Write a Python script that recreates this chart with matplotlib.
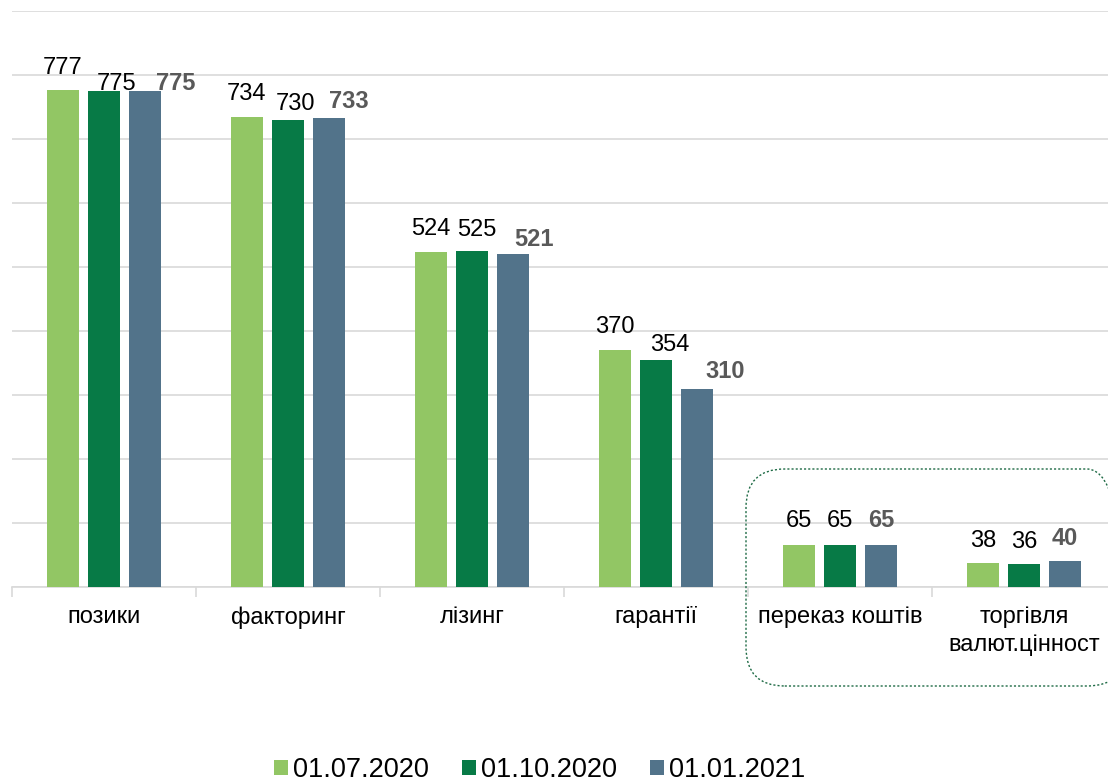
import numpy as np
import matplotlib.pyplot as plt
from matplotlib.patches import FancyBboxPatch

categories = ['позики', 'факторинг', 'лізинг', 'гарантії', 'переказ коштів', 'торгівля\nвалют.цінност']
series_names = ['01.07.2020', '01.10.2020', '01.01.2021']
v_2020_07 = [777, 734, 524, 370, 65, 38]
v_2020_10 = [775, 730, 525, 354, 65, 36]
v_2021_01 = [775, 733, 521, 310, 65, 40]

colors = ['#92C664', '#077A46', '#52738A']
label_colors = ['black', 'black', '#595959']
label_weights = ['normal', 'normal', 'bold']
# label shifts (pixels) as placed in the original, per series / category
label_dx = [[0, 0, 0, 0, 0, 0],
            [13, 8, 5, 14, 0, 0],
            [31, 20, 21, 28, 0, 0]]
label_dy = [[16, 17, 17, 17, 18, 16],
            [1, 10, 15, 9, 18, 16],
            [1, 10, 8, 11, 18, 16]]

plt.rcParams['font.family'] = ['Liberation Sans', 'DejaVu Sans']

fig = plt.figure(figsize=(11.08, 7.82), dpi=100)
W, H = 1108, 782
ax = fig.add_axes([12 / W, (H - 587) / H, 1104 / W, 576 / H])

x = np.arange(len(categories))
bw = 32 / 184
step = 41 / 184
all_vals = [v_2020_07, v_2020_10, v_2021_01]
for i, vals in enumerate(all_vals):
    bars = ax.bar(x + (i - 1) * step, vals, width=bw, color=colors[i], label=series_names[i], zorder=3)
    for j, (b, v) in enumerate(zip(bars, vals)):
        ax.annotate(str(v), (b.get_x() + b.get_width() / 2, b.get_height()),
                    xytext=(label_dx[i][j], label_dy[i][j]), textcoords='offset pixels',
                    ha='center', va='baseline', fontsize=17,
                    color=label_colors[i], fontweight=label_weights[i], zorder=4)

ax.set_xlim(-0.5, 5.5)
ax.set_ylim(0, 900)
ax.set_yticks(np.arange(0, 901, 100))
ax.yaxis.grid(True, color='#D9D9D9', lw=1.2, zorder=0)
ax.tick_params(axis='y', left=False, labelleft=False)
for s in ['top', 'right', 'left']:
    ax.spines[s].set_visible(False)
ax.spines['bottom'].set_color('#D9D9D9')
ax.spines['bottom'].set_linewidth(1.2)

ax.set_xticks(np.arange(-0.5, 6, 1), minor=False)
ax.set_xticklabels([])
ax.tick_params(axis='x', which='major', length=7, color='#D9D9D9', width=1.2)
ax.set_xticks(x, minor=True)
ax.set_xticklabels(categories, minor=True, fontsize=17, linespacing=1.3)
ax.tick_params(axis='x', which='minor', length=0, pad=14)

leg = fig.legend(loc='center', bbox_to_anchor=(0.487, (H - 770) / H), ncol=3, frameon=False,
                 fontsize=19.5, handlelength=0.52, handleheight=0.52, handletextpad=0.2,
                 columnspacing=1.2)

box = FancyBboxPatch((746 / W, (H - 686) / H), 380 / W, 217 / H,
                     boxstyle='round,pad=0,rounding_size=0.035',
                     transform=fig.transFigure, fill=False, edgecolor='#1E6B45',
                     linestyle=(0, (1.5, 1.5)), lw=1.0, mutation_aspect=W / H)
fig.patches.append(box)

fig.savefig('out.png', dpi=100)
